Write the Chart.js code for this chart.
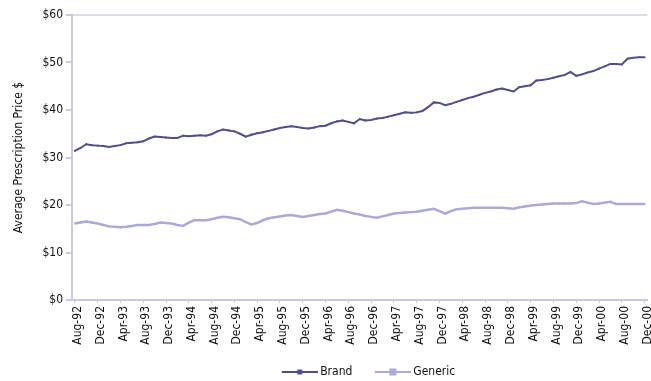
<!DOCTYPE html>
<html>
<head>
<meta charset="utf-8">
<script src="https://cdn.jsdelivr.net/npm/chart.js@4"></script>
<style>
  html, body { margin: 0; padding: 0; background: #fff; overflow: hidden; width: 651px; height: 381px; }
  #wrap { width: 662px; height: 388px; }
</style>
</head>
<body>
<div id="wrap"><canvas id="priceChart" width="662" height="388"></canvas></div>
<script>
// monthly, Aug-92 .. Dec-00
const startYear = 1992;
const startMonth = 7; // August (0-based)
const monthCount = 101;
const monthNames = ['Jan', 'Feb', 'Mar', 'Apr', 'May', 'Jun', 'Jul', 'Aug', 'Sep', 'Oct', 'Nov', 'Dec'];

const brand = [
  31.4, 32.0, 32.8, 32.6, 32.5, 32.4, 32.2, 32.4, 32.6, 33.0,
  33.1, 33.2, 33.4, 34.0, 34.4, 34.3, 34.2, 34.1, 34.1, 34.6,
  34.5, 34.6, 34.7, 34.6, 34.9, 35.5, 35.9, 35.7, 35.5, 35.0,
  34.4, 34.8, 35.1, 35.3, 35.6, 35.9, 36.2, 36.4, 36.6, 36.4,
  36.2, 36.1, 36.3, 36.6, 36.7, 37.2, 37.6, 37.8, 37.5, 37.2,
  38.1, 37.8, 37.9, 38.2, 38.3, 38.6, 38.9, 39.2, 39.5, 39.4,
  39.5, 39.8, 40.6, 41.6, 41.5, 41.0, 41.3, 41.7, 42.1, 42.5,
  42.8, 43.2, 43.6, 43.9, 44.3, 44.5, 44.2, 43.9, 44.8, 45.0,
  45.2, 46.2, 46.3, 46.5, 46.8, 47.1, 47.4, 48.0, 47.2, 47.5,
  47.9, 48.2, 48.7, 49.2, 49.7, 49.7, 49.6, 50.8, 51.0, 51.1,
  51.1
];

const generic = [
  16.1, 16.3, 16.5, 16.3, 16.1, 15.8, 15.5, 15.4, 15.3, 15.4,
  15.6, 15.8, 15.8, 15.8, 16.0, 16.3, 16.2, 16.1, 15.8, 15.6,
  16.3, 16.8, 16.8, 16.8, 17.0, 17.3, 17.5, 17.4, 17.2, 17.0,
  16.4, 15.9, 16.2, 16.8, 17.2, 17.4, 17.6, 17.8, 17.9, 17.7,
  17.5, 17.7, 17.9, 18.1, 18.2, 18.6, 19.0, 18.8, 18.5, 18.2,
  18.0, 17.7, 17.5, 17.3, 17.6, 17.9, 18.2, 18.3, 18.4, 18.5,
  18.6, 18.8, 19.0, 19.2, 18.7, 18.2, 18.7, 19.1, 19.2, 19.3,
  19.4, 19.4, 19.4, 19.4, 19.4, 19.4, 19.3, 19.2, 19.5, 19.7,
  19.9, 20.0, 20.1, 20.2, 20.3, 20.3, 20.3, 20.3, 20.4, 20.8,
  20.5, 20.2, 20.3, 20.5, 20.7, 20.2, 20.2, 20.2, 20.2, 20.2,
  20.2
];

const yMin = 0;
const yMax = 60;
const yStep = 10;
const labelEvery = 4;

const categories = [];
for (let i = 0; i < monthCount; i++) {
  const m = (startMonth + i) % 12;
  const y = startYear + Math.floor((startMonth + i) / 12);
  categories.push(monthNames[m] + '-' + String(y % 100).padStart(2, '0'));
}

const brandColor = '#4f4f8e';
const genericColor = '#aaaad8';
const axisColor = '#c9c9e2';
const textColor = '#111';
// condensed face of DejaVu Sans, picked through the font-stretch keyword
const font = "'DejaVu Sans', sans-serif";
const stretch = 'condensed';

// legend swatch: blank lead-in, then a short line with a small square marker
function legendSwatch(color, lineW, markSize) {
  const c = document.createElement('canvas');
  c.width = 57;
  c.height = 10;
  const g = c.getContext('2d');
  g.strokeStyle = color;
  g.lineWidth = lineW;
  g.beginPath();
  g.moveTo(21, 5);
  g.lineTo(57, 5);
  g.stroke();
  g.fillStyle = color;
  g.fillRect(39 - markSize / 2, 5 - markSize / 2, markSize, markSize);
  return c;
}
const swatches = [legendSwatch(brandColor, 2, 5), legendSwatch(genericColor, 2, 7)];

const ctx = document.getElementById('priceChart').getContext('2d');
const priceChart = new Chart(ctx, {
  type: 'line',
  data: {
    labels: categories,
    datasets: [{
      label: 'Brand',
      data: brand,
      borderColor: brandColor,
      backgroundColor: brandColor,
      borderWidth: 2,
      pointStyle: 'rect',
      pointRadius: 1.2,
      pointBorderWidth: 0,
      tension: 0,
      fill: false
    }, {
      label: 'Generic',
      data: generic,
      borderColor: genericColor,
      backgroundColor: genericColor,
      borderWidth: 2.5,
      pointStyle: 'rect',
      pointRadius: 1.2,
      pointBorderWidth: 0,
      tension: 0,
      fill: false
    }]
  },
  options: {
    responsive: false,
    animation: false,
    layout: { padding: { top: 15, left: 0, right: 0, bottom: 0 } },
    plugins: {
      tooltip: { enabled: false },
      legend: {
        position: 'bottom',
        fullSize: false,
        labels: {
          color: textColor,
          font: { family: font, size: 12, weight: stretch },
          usePointStyle: true,
          pointStyleWidth: 50,
          boxHeight: 10,
          padding: 5,
          generateLabels(chart) {
            return chart.data.datasets.map((ds, i) => ({
              text: ds.label,
              fillStyle: ds.borderColor,
              strokeStyle: ds.borderColor,
              lineWidth: 0,
              pointStyle: swatches[i],
              hidden: false,
              datasetIndex: i,
              fontColor: textColor
            }));
          }
        }
      }
    },
    scales: {
      x: {
        offset: true,
        grid: {
          display: true,
          drawOnChartArea: false,
          tickLength: 3,
          tickColor: c => (c.index % labelEvery === 0 ? axisColor : 'rgba(0,0,0,0)')
        },
        border: { display: true, color: axisColor, width: 2 },
        ticks: {
          autoSkip: false,
          minRotation: 90,
          maxRotation: 90,
          padding: 3,
          labelOffset: 3,
          color: textColor,
          font: { family: font, size: 12, weight: stretch },
          callback: function(value, index) {
            return index % labelEvery === 0 ? this.getLabelForValue(value) : '';
          }
        },
        afterFit: scale => { scale.height = 61; }
      },
      y: {
        min: yMin,
        max: yMax,
        grid: {
          display: true,
          drawOnChartArea: true,
          tickLength: 6,
          tickColor: axisColor,
          lineWidth: 2,
          color: c => (c.tick && c.tick.value === yMax ? '#dcdce6' : 'rgba(0,0,0,0)')
        },
        border: { display: true, color: axisColor, width: 2 },
        ticks: {
          stepSize: yStep,
          padding: 3,
          color: textColor,
          font: { family: font, size: 12, weight: stretch },
          callback: value => '$' + value
        },
        title: {
          display: true,
          text: 'Average Prescription Price $',
          color: textColor,
          font: { family: font, size: 12, weight: stretch },
          padding: { top: 12, bottom: 0 }
        },
        afterFit: scale => { scale.width = 72; }
      }
    }
  }
});
</script>
</body>
</html>
